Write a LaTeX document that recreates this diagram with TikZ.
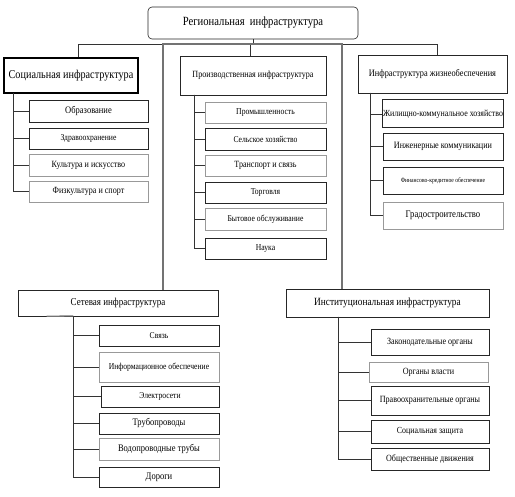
\documentclass[tikz,border=0pt]{standalone}
\usepackage{fontspec}
\setmainfont{Liberation Serif}[FakeStretch=0.85]
\usetikzlibrary{positioning}

\begin{document}
\begin{tikzpicture}[x=1pt,y=-1pt,
  head/.style={draw=black!85,line width=0.6pt,inner sep=1pt,font=\fontsize{10}{12}\selectfont},
  item/.style={draw=black!85,line width=0.6pt,inner sep=1pt,font=\fontsize{9}{10}\selectfont},
  pale/.style={draw=black!40},
  link/.style={draw=black!80,line width=0.8pt},
  long/.style={draw=black!55,line width=1.3pt}]
\useasboundingbox (0,0) rectangle (515,497);
% top level
\node[head,rounded corners=4pt,minimum width=210pt,minimum height=32pt,font=\fontsize{12.5}{14}\selectfont] (reg) at (253,23) {Региональная\ \ инфраструктура};
\node[head,line width=2.2pt,draw=black,minimum width=134pt,minimum height=35pt,font=\fontsize{12}{14}\selectfont] (soc) at (71,75.5) {Социальная инфраструктура};
\node[head,minimum width=146pt,minimum height=39pt,font=\fontsize{9.5}{11}\selectfont] (pro) at (253,75.5) {Производственная инфраструктура};
\node[head,minimum width=149pt,minimum height=38pt,font=\fontsize{9.8}{11}\selectfont] (zhi) at (432.5,74) {Инфраструктура жизнеобеспечения};
\node[head,minimum width=200pt,minimum height=26pt,font=\fontsize{10.6}{12}\selectfont] (set) at (118,303) {Сетевая инфраструктура};
\node[head,minimum width=203pt,minimum height=28pt,font=\fontsize{11}{13}\selectfont] (ins) at (387.5,303) {Институциональная инфраструктура};

% social
\node[item,minimum width=119pt,minimum height=22pt,font=\fontsize{10}{11}\selectfont] (obr) at (88.5,111) {Образование};
\node[item,minimum width=119pt,minimum height=21pt] (zdr) at (88.5,138.5) {Здравоохранение};
\node[item,pale,minimum width=119pt,minimum height=22pt,font=\fontsize{9.5}{11}\selectfont] (kul) at (88.5,165) {Культура и искусство};
\node[item,pale,minimum width=119pt,minimum height=21pt,font=\fontsize{9.5}{11}\selectfont] (fiz) at (88.5,191.5) {Физкультура и спорт};

% production
\node[item,pale,minimum width=121pt,minimum height=21pt] (prom) at (265.5,112.5) {Промышленность};
\node[item,minimum width=121pt,minimum height=22pt] (selh) at (265.5,139) {Сельское хозяйство};
\node[item,pale,minimum width=121pt,minimum height=21pt,font=\fontsize{9.5}{11}\selectfont] (tran) at (265.5,165.5) {Транспорт и связь};
\node[item,minimum width=121pt,minimum height=21pt] (torg) at (265.5,192.5) {Торговля};
\node[item,pale,minimum width=121pt,minimum height=22pt] (byt) at (265.5,219) {Бытовое обслуживание};
\node[item,minimum width=121pt,minimum height=21pt] (nauk) at (265.5,248.5) {Наука};

% life support
\node[item,line width=1pt,minimum width=120pt,minimum height=28pt,font=\fontsize{9.3}{11}\selectfont] (zhkh) at (443,114) {Жилищно-коммунальное хозяйство};
\node[item,minimum width=120pt,minimum height=27pt,font=\fontsize{9.6}{11}\selectfont] (inzh) at (443,146.5) {Инженерные коммуникации};
\node[item,minimum width=120pt,minimum height=27pt,font=\fontsize{6.6}{8}\selectfont] (fin) at (443,180.5) {Финансово-кредитное обеспечение};
\node[item,pale,minimum width=120pt,minimum height=27pt,font=\fontsize{10.2}{12}\selectfont] (grad) at (443,215.5) {Градостроительство};

% network
\node[item,minimum width=120pt,minimum height=21pt] (svz) at (159,335.5) {Связь};
\node[item,pale,minimum width=120pt,minimum height=30pt] (info) at (159,367) {Информационное обеспечение};
\node[item,minimum width=118pt,minimum height=21pt] (elek) at (160,396.5) {Электросети};
\node[item,minimum width=120pt,minimum height=21pt,font=\fontsize{10}{11}\selectfont] (trub) at (159,423.5) {Трубопроводы};
\node[item,pale,minimum width=120pt,minimum height=22pt,font=\fontsize{10}{11}\selectfont] (vod) at (159,449) {Водопроводные трубы};
\node[item,minimum width=120pt,minimum height=20pt,font=\fontsize{10}{11}\selectfont] (dor) at (159,477) {Дороги};

% institutional
\node[item,minimum width=118pt,minimum height=26pt,font=\fontsize{9.5}{11}\selectfont] (zak) at (430,342) {Законодательные органы};
\node[item,pale,minimum width=119pt,minimum height=20pt,font=\fontsize{9.5}{11}\selectfont] (vlast) at (428.5,372) {Органы власти};
\node[item,minimum width=118pt,minimum height=29pt,font=\fontsize{9.5}{11}\selectfont] (prav) at (430,400.5) {Правоохранительные органы};
\node[item,minimum width=118pt,minimum height=23pt,font=\fontsize{9.3}{11}\selectfont] (szash) at (430,431.5) {Социальная защита};
\node[item,minimum width=118pt,minimum height=22pt,font=\fontsize{9.5}{11}\selectfont] (obd) at (430,459) {Общественные движения};

% links from the top
\coordinate (bar) at (250,44);
\draw[link] (reg.south) -- (reg.south |- bar);
\draw[link] (bar) -| ([xshift=7pt]soc.north);
\draw[link] (bar) -| ([xshift=-3pt]pro.north);
\draw[link] (bar) -| ([xshift=4.5pt]zhi.north);
\draw[long] (bar) -| ([xshift=45pt]set.north);
\draw[long] (bar) -| ([xshift=-45.5pt]ins.north);

% trunks
\coordinate (ts) at (13,93);
\coordinate (tp) at (194,95);
\coordinate (tz) at (370,93);
\coordinate (tn) at (73,316);
\coordinate (ti) at (338,317);
\foreach \c in {obr,zdr,kul,fiz} \draw[link] (ts) |- (\c.west);
\foreach \c in {prom,selh,tran,torg,byt,nauk} \draw[link] (tp) |- (\c.west);
\foreach \c in {zhkh,inzh,fin,grad} \draw[link] (tz) |- (\c.west);
\foreach \c in {svz,info,elek,trub,vod,dor} \draw[link] (tn) |- (\c.west);
\foreach \c in {zak,vlast,prav,szash,obd} \draw[link] (ti) |- (\c.west);
\draw[long] ([xshift=29pt]set.south west) -- (tn);
\end{tikzpicture}
\end{document}
